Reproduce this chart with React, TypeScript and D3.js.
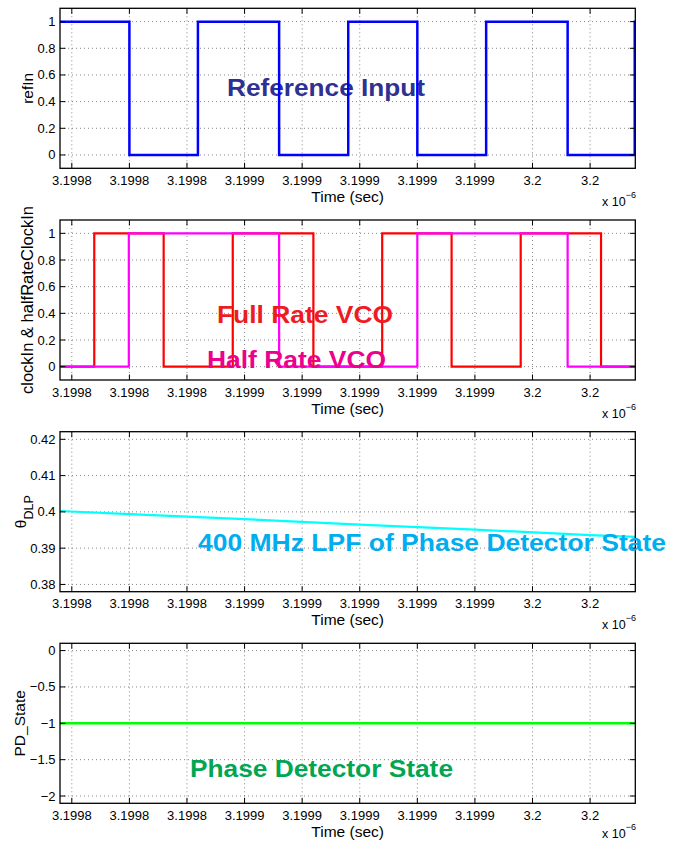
import React from "react";
import * as d3 from "d3";

// time axis (x 10^-6 sec)
const xStart = 3.1997959;
const xEnd = 3.1999957;
const xTickValues = [3.1998, 3.19982, 3.19984, 3.19986, 3.19988, 3.1999, 3.19992, 3.19994, 3.19996, 3.19998];
const xTickLabels = ["3.1998", "3.1998", "3.1998", "3.1999", "3.1999", "3.1999", "3.1999", "3.1999", "3.2", "3.2"];

// refIn step signal
const refInTimes = [3.1997959, 3.19982, 3.1998438, 3.199872, 3.199896, 3.19992, 3.1999439, 3.1999722, 3.1999955, 3.1999957];
const refInLevels = [1, 0, 1, 0, 1, 0, 1, 0, 1, 1];

// full rate clock
const clockTimes = [3.1997959, 3.1998078, 3.1998319, 3.1998559, 3.1998839, 3.1999078, 3.1999319, 3.1999559, 3.1999838, 3.1999957];
const clockLevels = [0, 1, 0, 1, 0, 1, 0, 1, 0, 0];

// half rate clock
const halfTimes = [3.1997959, 3.1998198, 3.199872, 3.19992, 3.1999722, 3.1999957];
const halfLevels = [0, 1, 0, 1, 0, 0];

// theta DLP
const thetaTimes = [3.1997959, 3.19982, 3.19986, 3.1999, 3.19994, 3.19998, 3.1999957];
const thetaValues = [0.40025, 0.3994, 0.398, 0.3965, 0.3951, 0.3936, 0.3931];

// PD state
const pdTimes = [3.1997959, 3.1999957];
const pdValues = [-1, -1];

const unitTicks = [0, 0.2, 0.4, 0.6, 0.8, 1];
const unitTickLabels = ["0", "0.2", "0.4", "0.6", "0.8", "1"];
const thetaTicks = [0.38, 0.39, 0.4, 0.41, 0.42];
const thetaTickLabels = ["0.38", "0.39", "0.4", "0.41", "0.42"];
const pdTicks = [-2, -1.5, -1, -0.5, 0];
const pdTickLabels = ["\u22122", "\u22121.5", "\u22121", "\u22120.5", "0"];

const W = 683;
const H = 842;
const left = 60;
const right = 635.3;
const panelH = 160;
const font = "'Liberation Sans', Arial, Helvetica, sans-serif";

const x = d3.scaleLinear().domain([xStart, xEnd]).range([left, right]);

function Panel({ id, top, yDomain, yTicks, yTickLabels, yLabel, labelX, series, note, noteUnder }) {
    const y = d3.scaleLinear().domain(yDomain).range([top + panelH, top]);
    const bottom = top + panelH;
    const tickLen = 5.5;

    const lines = series.map((s, i) => {
        const pts = s.times.map((t, j) => [t, s.values[j]]);
        const gen = d3
            .line()
            .x(d => x(d[0]))
            .y(d => y(d[1]))
            .curve(s.step ? d3.curveStepAfter : d3.curveLinear);
        return (
            <path
                key={i}
                d={gen(pts)}
                fill="none"
                stroke={s.color}
                strokeWidth={s.width}
                clipPath={`url(#clip${id})`}
            />
        );
    });

    const noteEl = note ? (
        <text
            x={note.x}
            y={note.y}
            fill={note.color}
            fontFamily={font}
            fontWeight="bold"
            fontSize={24}
            textLength={note.width}
            lengthAdjust="spacingAndGlyphs"
        >
            {note.text}
        </text>
    ) : null;

    // exponent label, kept inside the page for the last panel
    const expY = Math.min(bottom + 37.5, H - 4);

    return (
        <g>
            <defs>
                <clipPath id={`clip${id}`}>
                    <rect x={left} y={top} width={right - left} height={panelH} />
                </clipPath>
            </defs>
            <rect x={left} y={top} width={right - left} height={panelH} fill="white" />
            {/* grid */}
            <g stroke="#555" strokeWidth={0.7} strokeDasharray="1 3">
                {xTickValues.map((v, i) => (
                    <line key={"gx" + i} x1={x(v)} x2={x(v)} y1={top} y2={bottom} />
                ))}
                {yTicks.map((v, i) => (
                    <line key={"gy" + i} x1={left} x2={right} y1={y(v)} y2={y(v)} />
                ))}
            </g>
            {noteUnder ? noteEl : null}
            {lines}
            {noteUnder ? null : noteEl}
            {/* box and inward ticks */}
            <rect x={left} y={top} width={right - left} height={panelH} fill="none" stroke="black" strokeWidth={1.3} />
            <g stroke="black" strokeWidth={1}>
                {xTickValues.map((v, i) => (
                    <g key={"tx" + i}>
                        <line x1={x(v)} x2={x(v)} y1={bottom} y2={bottom - tickLen} />
                        <line x1={x(v)} x2={x(v)} y1={top} y2={top + tickLen} />
                    </g>
                ))}
                {yTicks.map((v, i) => (
                    <g key={"ty" + i}>
                        <line x1={left} x2={left + tickLen} y1={y(v)} y2={y(v)} />
                        <line x1={right} x2={right - tickLen} y1={y(v)} y2={y(v)} />
                    </g>
                ))}
            </g>
            <g fontFamily={font} fontSize={13} fill="black">
                {xTickLabels.map((l, i) => (
                    <text key={"lx" + i} x={x(xTickValues[i])} y={bottom + 16.5} textAnchor="middle">
                        {l}
                    </text>
                ))}
                {yTickLabels.map((l, i) => (
                    <text key={"ly" + i} x={left - 4.5} y={y(yTicks[i]) + 4.5} textAnchor="end">
                        {l}
                    </text>
                ))}
            </g>
            <text x={(left + right) / 2} y={bottom + 33.5} textAnchor="middle" fontFamily={font} fontSize={15.5}>
                Time (sec)
            </text>
            <text x={602} y={expY} fontFamily={font} fontSize={12.5}>
                x 10
                <tspan dy={-8} fontSize={9}>
                    {"\u22126"}
                </tspan>
            </text>
            <g transform={`translate(${labelX},${top + panelH / 2}) rotate(-90)`}>
                {yLabel}
            </g>
        </g>
    );
}

export default function App() {
    const tops = [8.3, 220, 431.7, 643.3];
    return (
        <svg
            width={W}
            height={H}
            style={{ position: "absolute", left: 0, top: 0, display: "block", background: "white" }}
        >
            <rect x={0} y={0} width={W} height={H} fill="white" />
            <Panel
                id={1}
                top={tops[0]}
                yDomain={[-0.1, 1.1]}
                yTicks={unitTicks}
                yTickLabels={unitTickLabels}
                labelX={33}
                yLabel={
                    <text textAnchor="middle" fontFamily={font} fontSize={15.5}>
                        refIn
                    </text>
                }
                series={[{ times: refInTimes, values: refInLevels, color: "#0000ff", width: 2.5, step: true }]}
                note={{ text: "Reference Input", x: 227, y: 96, width: 198, color: "#2e3192" }}
                noteUnder={true}
            />
            <Panel
                id={2}
                top={tops[1]}
                yDomain={[-0.1, 1.1]}
                yTicks={unitTicks}
                yTickLabels={unitTickLabels}
                labelX={33}
                yLabel={
                    <text textAnchor="middle" fontFamily={font} fontSize={16.5}>
                        clockIn &amp; halfRateClockIn
                    </text>
                }
                series={[
                    { times: clockTimes, values: clockLevels, color: "#ff0000", width: 2.2, step: true },
                    { times: halfTimes, values: halfLevels, color: "#ff00ff", width: 2.2, step: true }
                ]}
                note={null}
            />
            <text x={217} y={323} fill="#ed1c24" fontFamily={font} fontWeight="bold" fontSize={24} textLength={176} lengthAdjust="spacingAndGlyphs">
                Full Rate VCO
            </text>
            <text x={207} y={368} fill="#ec008c" fontFamily={font} fontWeight="bold" fontSize={24} textLength={179} lengthAdjust="spacingAndGlyphs">
                Half Rate VCO
            </text>
            <Panel
                id={3}
                top={tops[2]}
                yDomain={[0.378, 0.4221]}
                yTicks={thetaTicks}
                yTickLabels={thetaTickLabels}
                labelX={25.5}
                yLabel={
                    <text textAnchor="middle" fontFamily={font} fontSize={15.5}>
                        {"\u03b8"}
                        <tspan dy={7} fontSize={12.5}>
                            DLP
                        </tspan>
                    </text>
                }
                series={[{ times: thetaTimes, values: thetaValues, color: "#00ffff", width: 2.2, step: false }]}
                note={null}
            />
            <text x={198} y={551} fill="#00aeef" fontFamily={font} fontWeight="bold" fontSize={24} textLength={468} lengthAdjust="spacingAndGlyphs">
                400 MHz LPF of Phase Detector State
            </text>
            <Panel
                id={4}
                top={tops[3]}
                yDomain={[-2.1, 0.1]}
                yTicks={pdTicks}
                yTickLabels={pdTickLabels}
                labelX={25}
                yLabel={
                    <text textAnchor="middle" fontFamily={font} fontSize={15.5}>
                        PD_State
                    </text>
                }
                series={[{ times: pdTimes, values: pdValues, color: "#00ff00", width: 2.5, step: false }]}
                note={{ text: "Phase Detector State", x: 190, y: 777, width: 263, color: "#00a651" }}
                noteUnder={false}
            />
        </svg>
    );
}
